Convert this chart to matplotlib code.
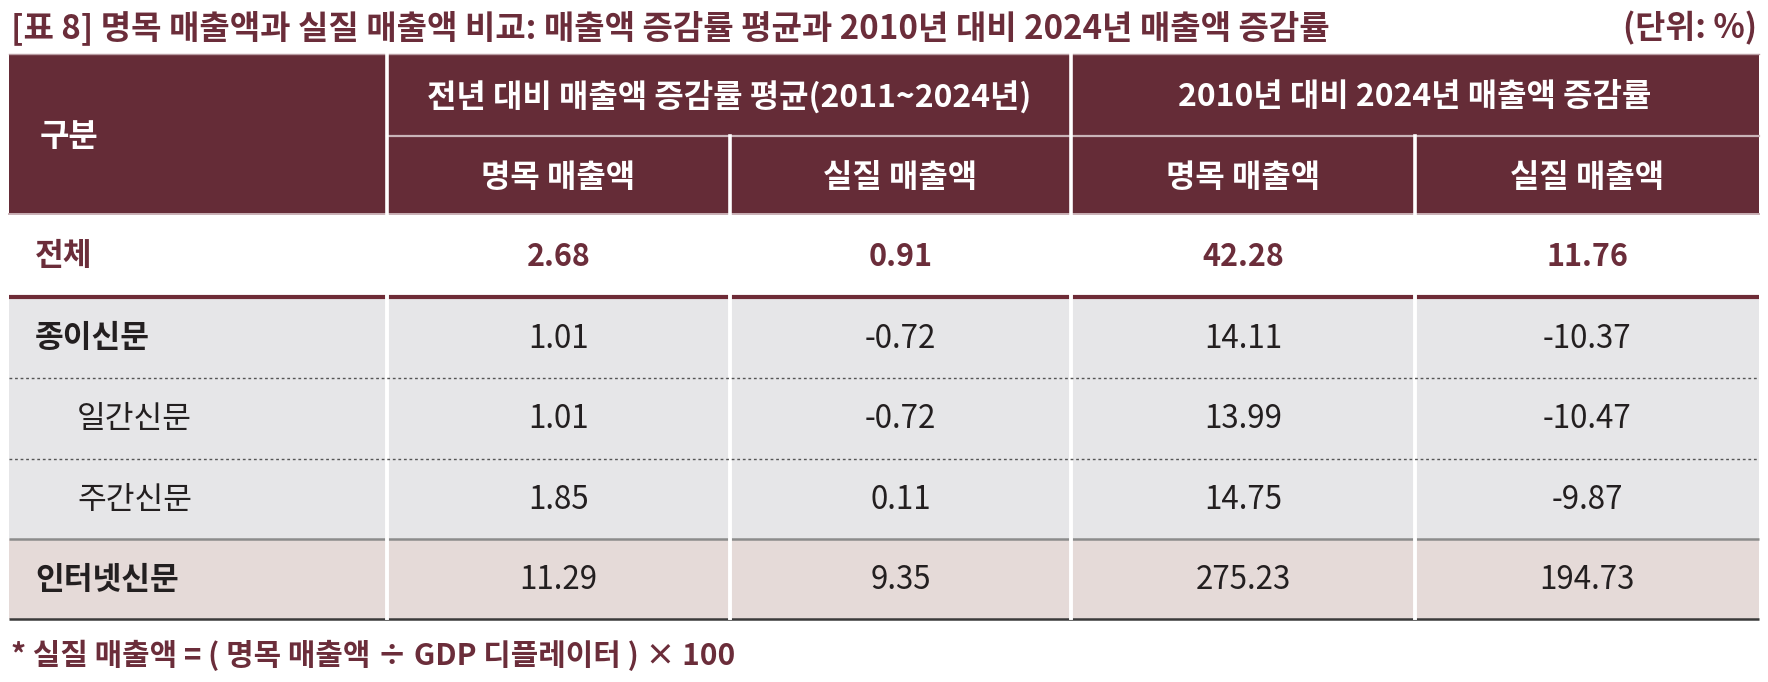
import matplotlib
matplotlib.use("Agg")
import matplotlib.pyplot as plt
from matplotlib.patches import Rectangle

plt.rcParams['font.family'] = ['Noto Sans CJK KR', 'DejaVu Sans']

# ---------------- data ----------------
title = "[표 8] 명목 매출액과 실질 매출액 비교: 매출액 증감률 평균과 2010년 대비 2024년 매출액 증감률"
unit_label = "(단위: %)"
corner_label = "구분"
group_headers = ["전년 대비 매출액 증감률 평균(2011~2024년)", "2010년 대비 2024년 매출액 증감률"]
sub_headers = ["명목 매출액", "실질 매출액", "명목 매출액", "실질 매출액"]
categories = ["전체", "종이신문", "일간신문", "주간신문", "인터넷신문"]
avg_nominal = [2.68, 1.01, 1.01, 1.85, 11.29]
avg_real = [0.91, -0.72, -0.72, 0.11, 9.35]
chg_nominal = [42.28, 14.11, 13.99, 14.75, 275.23]
chg_real = [11.76, -10.37, -10.47, -9.87, 194.73]
footnote = "* 실질 매출액 = ( 명목 매출액 ÷ GDP 디플레이터 ) × 100"

# ---------------- style / layout ----------------
W, H = 1768, 682
MAROON = "#652C37"
MAROON_TXT = "#6B2D3A"
GRAY_BG = "#E6E6E8"
PINK_BG = "#E5DAD8"
TXT = "#231F20"

col_edges = [9, 387, 730, 1071, 1415, 1759]
hdr_top, hdr_mid, hdr_bot = 54, 136, 214
row_edges = [214, 297, 378, 459, 539, 619]
row_bg = ["white", GRAY_BG, GRAY_BG, GRAY_BG, PINK_BG]
row_label_x = [35, 35, 77, 77, 35]
row_label_weight = ["bold", "bold", "normal", "normal", "bold"]
row_label_color = [MAROON_TXT, TXT, TXT, TXT, TXT]
row_val_weight = ["bold", "light", "light", "light", "light"]
row_val_size = [22, 22.5, 22.5, 22.5, 22.5]
row_val_color = [MAROON_TXT, TXT, TXT, TXT, TXT]

fig = plt.figure(figsize=(W / 100, H / 100), dpi=100)
ax = fig.add_axes([0, 0, 1, 1])
ax.set_xlim(0, W)
ax.set_ylim(H, 0)
ax.axis("off")

# title & unit
ax.text(11, 28, title, fontsize=23.8, fontweight="bold", color=MAROON_TXT,
        ha="left", va="center")
ax.text(1757, 28, unit_label, fontsize=23.5, fontweight="bold", color=MAROON_TXT,
        ha="right", va="center")

# header background
ax.add_patch(Rectangle((col_edges[0], hdr_top), col_edges[-1] - col_edges[0],
                       hdr_bot - hdr_top, facecolor=MAROON, edgecolor="none", zorder=1))
ax.plot([col_edges[0], col_edges[-1]], [hdr_top, hdr_top], color="#B89CA2", lw=1.0, zorder=2)
ax.plot([col_edges[1], col_edges[-1]], [hdr_mid, hdr_mid], color="#C9B4B8", lw=1.6, zorder=2)
ax.plot([col_edges[0], col_edges[-1]], [hdr_bot, hdr_bot], color="#C9B0B5", lw=1.4, zorder=2)
for x in (col_edges[1], col_edges[3]):
    ax.plot([x, x], [hdr_top, hdr_bot], color="white", lw=2.6, zorder=3)
for x in (col_edges[2], col_edges[4]):
    ax.plot([x, x], [hdr_mid, hdr_bot], color="white", lw=2.6, zorder=3)

ax.text(40, (hdr_top + hdr_bot) / 2 + 3, corner_label, fontsize=23, fontweight="bold",
        color="white", ha="left", va="center", zorder=4)
for g, label in enumerate(group_headers):
    cx = (col_edges[1 + 2 * g] + col_edges[3 + 2 * g]) / 2
    ax.text(cx, (hdr_top + hdr_mid) / 2 + 2, label, fontsize=23, fontweight="bold",
            color="white", ha="center", va="center", zorder=4)
for c, label in enumerate(sub_headers):
    cx = (col_edges[1 + c] + col_edges[2 + c]) / 2
    ax.text(cx, (hdr_mid + hdr_bot) / 2 + 3, label, fontsize=23, fontweight="bold",
            color="white", ha="center", va="center", zorder=4)

# body
columns = [avg_nominal, avg_real, chg_nominal, chg_real]
for r, cat in enumerate(categories):
    y0, y1 = row_edges[r], row_edges[r + 1]
    ax.add_patch(Rectangle((col_edges[0], y0), col_edges[-1] - col_edges[0], y1 - y0,
                           facecolor=row_bg[r], edgecolor="none", zorder=1))
    cy = (y0 + y1) / 2 + 1
    ax.text(row_label_x[r], cy, cat, fontsize=22.5, fontweight=row_label_weight[r],
            color=row_label_color[r], ha="left", va="center", zorder=5)
    for c, vals in enumerate(columns):
        cx = (col_edges[1 + c] + col_edges[2 + c]) / 2
        ax.text(cx, cy, f"{vals[r]:.2f}", fontsize=row_val_size[r], fontweight=row_val_weight[r],
                color=row_val_color[r], ha="center", va="center", zorder=5)

# horizontal rules
ax.plot([col_edges[0], col_edges[-1]], [row_edges[1], row_edges[1]], color="#6E2B36",
        lw=3.0, solid_capstyle="butt", zorder=2)
ax.plot([col_edges[0], col_edges[-1]], [row_edges[4], row_edges[4]], color="#8C8C8C",
        lw=1.8, solid_capstyle="butt", zorder=2)
ax.plot([col_edges[0], col_edges[-1]], [row_edges[5], row_edges[5]], color="#3A3A3A",
        lw=1.8, solid_capstyle="butt", zorder=2)
# white column separators in body
for x in col_edges[1:-1]:
    ax.plot([x, x], [row_edges[1] - 2, row_edges[5] - 1], color="white", lw=2.8, zorder=3)
# dotted rules
for k in (2, 3):
    ax.plot([col_edges[0], col_edges[-1]], [row_edges[k], row_edges[k]], color="#555555",
            lw=1.0, linestyle=(0, (2, 2)), zorder=4)

# footnote
ax.text(11, 655, footnote, fontsize=21.5, fontweight="bold", color=MAROON_TXT,
        ha="left", va="center")

fig.savefig("out.png", dpi=100)
